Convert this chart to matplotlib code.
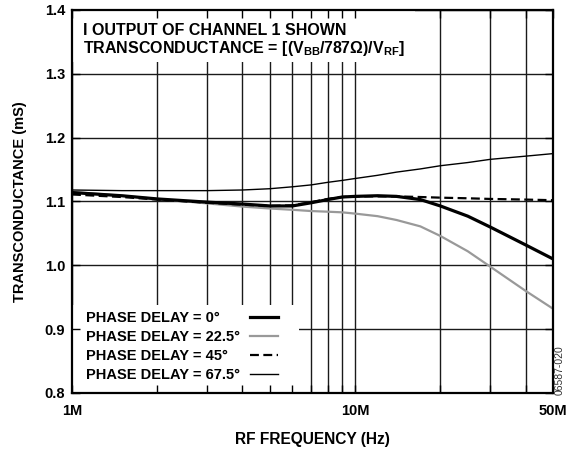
import numpy as np
import matplotlib.pyplot as plt
from matplotlib.patches import Rectangle
from matplotlib.ticker import FixedLocator, FixedFormatter, NullFormatter

plt.rcParams['font.family'] = ['Liberation Sans', 'DejaVu Sans']
plt.rcParams['font.weight'] = 'bold'
plt.rcParams['mathtext.fontset'] = 'custom'
plt.rcParams['mathtext.rm'] = 'Liberation Sans:bold'
plt.rcParams['mathtext.it'] = 'Liberation Sans:bold'
plt.rcParams['mathtext.bf'] = 'Liberation Sans:bold'
plt.rcParams['mathtext.default'] = 'rm'

# Data (frequency in MHz, transconductance in mS)
freq_mhz = np.array([1, 1.5, 2, 3, 4, 5, 6, 7, 8, 9, 10, 12, 14, 17, 20, 25, 30, 40, 50])
gm_0 = [1.114, 1.109, 1.104, 1.099, 1.096, 1.093, 1.093, 1.098, 1.103, 1.107, 1.108,
        1.109, 1.108, 1.103, 1.093, 1.077, 1.060, 1.032, 1.010]
gm_22 = [1.115, 1.109, 1.104, 1.097, 1.092, 1.089, 1.087, 1.085, 1.084, 1.083, 1.081,
         1.077, 1.071, 1.061, 1.046, 1.022, 0.998, 0.960, 0.932]
gm_45 = [1.111, 1.107, 1.103, 1.098, 1.095, 1.093, 1.094, 1.099, 1.104, 1.107, 1.108,
         1.108, 1.108, 1.107, 1.106, 1.105, 1.104, 1.103, 1.102]
gm_67 = [1.118, 1.117, 1.117, 1.117, 1.118, 1.120, 1.123, 1.126, 1.130, 1.133, 1.136,
         1.141, 1.146, 1.151, 1.156, 1.161, 1.166, 1.171, 1.175]

labels = ['PHASE DELAY = 0°', 'PHASE DELAY = 22.5°', 'PHASE DELAY = 45°', 'PHASE DELAY = 67.5°']

x_major = [1e6, 10e6, 50e6]
x_major_labels = ['1M', '10M', '50M']
x_minor = [2e6, 3e6, 4e6, 5e6, 6e6, 7e6, 8e6, 9e6, 20e6, 30e6, 40e6]
y_ticks = [0.8, 0.9, 1.0, 1.1, 1.2, 1.3, 1.4]

fs = 10.5
DPI = 100
freq = freq_mhz * 1e6

fig = plt.figure(figsize=(5.73, 4.54), dpi=DPI)
ax = fig.add_axes([0.1257, 0.1344, 0.8394, 0.8436])
ax.set_xscale('log')
ax.set_xlim(1e6, 50e6)
ax.set_ylim(0.8, 1.4)

# grid drawn by hand so the white boxes can sit between grid and ticks
for xv in x_major + x_minor:
  ax.axvline(xv, color='#1a1a1a', lw=1.0, zorder=0.5)
for yv in y_ticks:
  ax.axhline(yv, color='#1a1a1a', lw=1.0, zorder=0.5)

# white boxes behind the note and the legend
ax.add_patch(Rectangle((0, 0.864), 0.713, 0.136, transform=ax.transAxes,
                       facecolor='white', edgecolor='none', zorder=1))
ax.add_patch(Rectangle((0, 0), 0.472, 0.23, transform=ax.transAxes,
                       facecolor='white', edgecolor='none', zorder=1))

h22, = ax.plot(freq, gm_22, color='#999999', lw=1.6, zorder=2)
h0, = ax.plot(freq, gm_0, color='black', lw=2.3, zorder=2.1)
h45, = ax.plot(freq, gm_45, color='black', lw=1.6, ls=(0, (4, 2)), zorder=2.2)
h67, = ax.plot(freq, gm_67, color='black', lw=1.0, zorder=2.3)

ax.xaxis.set_major_locator(FixedLocator(x_major))
ax.xaxis.set_major_formatter(FixedFormatter(x_major_labels))
ax.xaxis.set_minor_locator(FixedLocator(x_minor))
ax.xaxis.set_minor_formatter(NullFormatter())
ax.set_yticks(y_ticks)
ax.set_yticklabels(['%.1f' % v for v in y_ticks])

ax.tick_params(which='both', direction='in', length=6, width=1.0, top=True, right=True,
               labelsize=fs)
ax.tick_params(axis='x', which='both', pad=8)
ax.tick_params(axis='y', which='both', pad=5)
for s in ax.spines.values():
  s.set_linewidth(1.6)

ax.set_xlabel('RF FREQUENCY (Hz)', fontsize=11.2, fontweight='bold', labelpad=10)
ax.set_ylabel('TRANSCONDUCTANCE (mS)', fontsize=fs, fontweight='bold', labelpad=13)

ax.text(0.023, 0.935, 'I OUTPUT OF CHANNEL 1 SHOWN', transform=ax.transAxes,
        fontsize=11.5, fontweight='bold', va='baseline', ha='left', zorder=3)
ax.text(0.023, 0.888, r'TRANSCONDUCTANCE = [(V$_{BB}$/787Ω)/V$_{RF}$]', transform=ax.transAxes,
        fontsize=11.5, fontweight='bold', va='baseline', ha='left', zorder=3)

leg = ax.legend([h0, h22, h45, h67], labels, loc='lower left', bbox_to_anchor=(0.029, 0.028),
                frameon=False, markerfirst=False, handlelength=1.9, handletextpad=0.7,
                labelspacing=0.34, borderpad=0, borderaxespad=0,
                prop={'size': fs, 'weight': 'bold'})
leg.set_zorder(1.5)

# left-align the labels while keeping the line samples in one column
renderer = fig.canvas.get_renderer()
rows = leg._legend_handle_box.get_children()[0].get_children()
widths = [r.get_children()[0].get_window_extent(renderer).width for r in rows]
for r, w in zip(rows, widths):
  r.sep = r.sep + (max(widths) - w) * 72.0 / DPI

fig.text(0.977, 0.13, '06587-020', rotation=90, fontsize=7.5, fontweight='normal',
         color='#333333', ha='center', va='bottom')

fig.savefig('out.png', dpi=DPI)
